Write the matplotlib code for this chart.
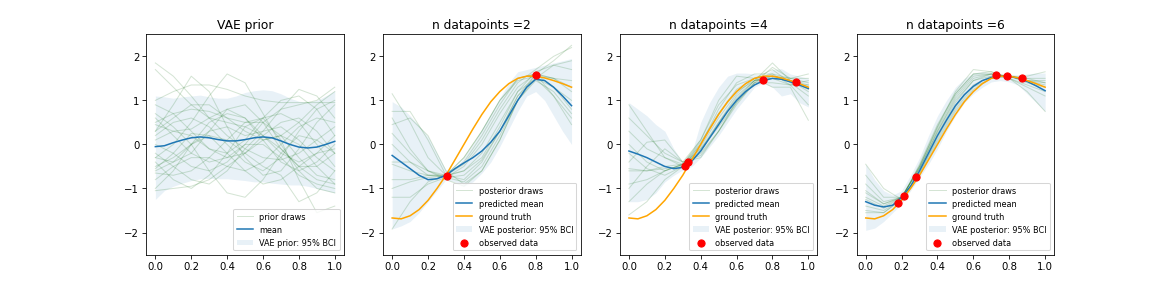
import numpy as np
import matplotlib
matplotlib.use("Agg")
from matplotlib import pyplot as plt

#---------------------------------------------------
#----------Data-------------------------------------
x_fine = np.linspace(0, 1, 21)   # grid for means / truth / bands
x_draw = np.linspace(0, 1, 11)   # grid for the faint draws

ground_truth = [-1.67, -1.69, -1.62, -1.48, -1.27, -1.0, -0.7, -0.35, 0.0, 0.35, 0.68,
                0.97, 1.2, 1.38, 1.5, 1.55, 1.55, 1.51, 1.45, 1.38, 1.3]

# VAE prior
prior_mean = [-0.05, -0.03, 0.04, 0.10, 0.15, 0.17, 0.15, 0.11, 0.08, 0.08, 0.11,
              0.15, 0.17, 0.15, 0.08, 0.0, -0.06, -0.08, -0.06, 0.0, 0.07]
prior_hi = [1.1, 1.08, 1.05, 1.08, 1.1, 1.12, 1.08, 1.05, 1.05, 1.1, 1.18,
            1.22, 1.24, 1.22, 1.15, 1.05, 0.98, 0.96, 1.0, 1.1, 1.22]
prior_lo = [-1.25, -1.05, -0.95, -0.88, -0.82, -0.78, -0.77, -0.78, -0.78, -0.8, -0.82,
            -0.85, -0.85, -0.88, -0.9, -0.92, -0.92, -0.95, -1.0, -1.05, -1.1]
prior_draws = [
    [1.85, 1.55, 1.1, 0.6, 0.2, -0.1, -0.3, -0.35, -0.2, 0.1, 0.4],
    [1.7, 1.3, 0.9, 0.6, 0.5, 0.4, 0.2, -0.1, -0.5, -0.8, -0.9],
    [0.3, 0.9, 1.55, 1.2, 0.4, -0.3, -0.7, -0.6, -0.1, 0.5, 0.9],
    [-0.3, 0.0, 0.5, 1.1, 1.6, 1.4, 0.7, 0.0, -0.6, -1.0, -1.1],
    [1.0, 1.2, 1.35, 1.35, 1.25, 1.1, 1.0, 0.95, 0.95, 0.95, 0.95],
    [-0.6, -0.4, 0.0, 0.3, 0.4, 0.2, 0.3, 0.8, 1.25, 1.1, 0.6],
    [0.0, -0.2, -0.5, -0.6, -0.4, 0.0, 0.5, 0.8, 0.9, 1.0, 1.3],
    [-0.4, -0.8, -1.0, -0.7, -0.2, 0.4, 0.6, 0.1, -0.8, -1.55, -1.4],
    [0.7, 0.4, 0.0, -0.6, -1.1, -1.2, -0.8, -0.2, 0.2, 0.1, -0.2],
    [-1.05, -1.0, -0.95, -0.8, -0.5, -0.2, 0.1, 0.2, 0.0, -0.5, -0.9],
    [0.5, 0.7, 0.8, 0.75, 0.6, 0.5, 0.6, 0.7, 0.5, 0.0, -0.5],
    [-0.5, -0.3, 0.0, 0.2, 0.1, -0.2, -0.5, -0.7, -1.3, -1.1, -0.6],
    [0.2, 0.5, 0.6, 0.4, 0.0, -0.4, -0.6, -0.3, 0.3, 0.8, 1.0],
    [-0.8, -0.5, -0.3, -0.3, -0.5, -0.6, -0.4, 0.0, 0.4, 0.6, 0.5],
    [0.9, 0.7, 0.3, -0.1, -0.3, -0.2, 0.2, 0.5, 0.6, 0.3, -0.2],
    [-0.2, -0.5, -0.8, -0.9, -0.6, -0.1, 0.3, 0.4, 0.1, -0.3, -0.6],
    [0.1, 0.3, 0.2, -0.1, -0.2, 0.1, 0.6, 1.0, 1.1, 0.8, 0.2],
    [-0.65, -0.7, -0.6, -0.3, 0.1, 0.5, 0.5, 0.2, -0.3, -0.7, -0.8],
    [0.6, 0.2, -0.2, -0.4, -0.3, 0.0, 0.0, -0.3, -0.7, -0.9, -1.0],
    [-1.0, -0.6, 0.0, 0.5, 0.7, 0.6, 0.2, -0.2, -0.4, -0.2, 0.2],
    [0.3, 0.6, 0.9, 0.9, 0.6, 0.3, 0.1, 0.2, 0.5, 0.9, 1.2],
    [-0.3, -0.4, -0.2, 0.3, 0.8, 0.9, 0.5, -0.1, -0.5, -0.5, -0.2],
    [0.45, 0.3, 0.35, 0.6, 0.8, 0.6, 0.1, -0.4, -0.6, -0.4, 0.0],
    [-0.55, -0.2, 0.25, 0.2, -0.2, -0.6, -0.9, -0.8, -0.5, -0.2, -0.1],
]

# n datapoints = 2
obs2_x = [0.305, 0.80]
obs2_y = [-0.72, 1.57]
mean2 = [-0.25, -0.4, -0.55, -0.7, -0.8, -0.78, -0.7, -0.55, -0.42, -0.3, -0.15,
         0.05, 0.3, 0.65, 1.0, 1.3, 1.48, 1.45, 1.3, 1.1, 0.88]
hi2 = [0.97, 0.85, 0.65, 0.42, 0.18, -0.2, -0.58, -0.55, -0.3, 0.0, 0.35,
       0.7, 1.05, 1.4, 1.65, 1.7, 1.75, 1.8, 1.85, 1.9, 1.95]
lo2 = [-1.92, -1.85, -1.75, -1.55, -1.3, -1.05, -0.8, -0.85, -0.95, -0.85, -0.65,
       -0.4, -0.05, 0.35, 0.75, 1.1, 1.2, 1.0, 0.65, 0.3, 0.0]
draws2 = [
    [1.15, 0.5, -0.3, -0.7, -0.4, 0.2, 0.9, 1.5, 1.6, 1.9, 2.25],
    [0.75, 0.75, 0.1, -0.7, -0.8, -0.4, 0.3, 1.1, 1.5, 1.3, 1.0],
    [0.45, 0.6, 0.2, -0.6, -0.9, -0.6, 0.1, 1.0, 1.6, 1.1, 0.45],
    [0.25, -0.2, -0.6, -0.75, -0.5, 0.0, 0.7, 1.3, 1.6, 1.5, 1.2],
    [-0.45, -0.6, -0.7, -0.7, -0.6, -0.3, 0.4, 1.2, 1.65, 1.8, 1.7],
    [-0.8, -0.8, -0.7, -0.75, -0.85, -0.5, 0.2, 1.0, 1.45, 1.2, 0.7],
    [0.0, -0.4, -0.7, -0.7, -0.45, 0.1, 0.8, 1.4, 1.7, 2.0, 2.2],
    [-1.92, -1.3, -0.85, -0.7, -0.3, 0.3, 1.0, 1.5, 1.6, 1.5, 1.3],
    [-1.2, -1.2, -0.9, -0.75, -0.7, -0.35, 0.3, 1.1, 1.6, 1.3, 0.8],
    [0.6, -0.1, -0.6, -0.8, -0.95, -0.6, 0.1, 1.0, 1.5, 1.1, 0.6],
    [-0.4, -0.4, -0.6, -0.7, -0.3, 0.3, 1.0, 1.45, 1.55, 1.5, 1.45],
    [-1.0, -0.85, -0.75, -0.72, -0.6, -0.2, 0.5, 1.2, 1.5, 1.8, 1.9],
]

# n datapoints = 4
obs4_x = [0.315, 0.33, 0.745, 0.93]
obs4_y = [-0.49, -0.41, 1.47, 1.41]
mean4 = [-0.15, -0.22, -0.3, -0.4, -0.5, -0.55, -0.52, -0.38, -0.15, 0.15, 0.45,
         0.75, 1.0, 1.2, 1.35, 1.45, 1.5, 1.48, 1.42, 1.35, 1.27]
hi4 = [0.95, 0.8, 0.65, 0.45, 0.3, -0.1, -0.4, -0.2, 0.5, 0.95, 1.3,
       1.55, 1.62, 1.62, 1.6, 1.55, 1.7, 1.72, 1.6, 1.55, 1.5]
lo4 = [-1.3, -1.3, -1.25, -1.1, -0.85, -0.7, -0.58, -0.5, -0.3, -0.05, 0.2,
       0.5, 0.8, 1.05, 1.3, 1.4, 1.3, 1.1, 1.15, 0.95, 0.85]
draws4 = [
    [0.9, 0.3, -0.3, -0.45, 0.0, 0.7, 1.2, 1.45, 1.5, 1.45, 1.3],
    [0.6, 0.2, -0.2, -0.4, 0.1, 0.9, 1.35, 1.5, 1.55, 1.5, 1.5],
    [-0.6, -0.6, -0.5, -0.45, -0.2, 0.3, 0.9, 1.4, 1.55, 1.45, 1.2],
    [-0.55, -0.6, -0.55, -0.5, 0.0, 0.8, 1.4, 1.6, 1.6, 1.35, 0.9],
    [-1.3, -0.9, -0.6, -0.45, -0.1, 0.4, 0.95, 1.4, 1.75, 1.5, 1.4],
    [-0.4, 0.05, 0.1, -0.4, -0.3, 0.3, 1.0, 1.45, 1.5, 1.35, 1.35],
    [0.3, -0.1, -0.3, -0.5, -0.15, 0.5, 1.1, 1.45, 1.85, 1.45, 1.35],
    [-0.9, -0.8, -0.6, -0.45, 0.1, 1.0, 1.55, 1.5, 1.3, 1.3, 0.55],
    [-1.6, -1.3, -0.8, -0.5, -0.1, 0.5, 1.05, 1.45, 1.55, 1.45, 1.25],
    [0.0, -0.4, -0.6, -0.45, 0.05, 0.7, 1.25, 1.5, 1.6, 1.5, 1.6],
    [-0.2, -0.55, -0.7, -0.5, -0.05, 0.6, 1.15, 1.5, 1.7, 1.4, 1.1],
    [-1.0, -0.5, -0.1, -0.4, -0.25, 0.3, 0.95, 1.4, 1.4, 1.35, 1.45],
]

# n datapoints = 6
obs6_x = [0.18, 0.215, 0.28, 0.728, 0.788, 0.872]
obs6_y = [-1.33, -1.16, -0.74, 1.57, 1.56, 1.5]
mean6 = [-1.3, -1.38, -1.42, -1.38, -1.2, -0.95, -0.6, -0.2, 0.2, 0.55, 0.88,
         1.13, 1.32, 1.45, 1.52, 1.55, 1.55, 1.5, 1.43, 1.33, 1.22]
hi6 = [-0.45, -0.8, -1.05, -1.15, -1.05, -0.7, -0.3, 0.2, 0.65, 1.0, 1.3,
       1.5, 1.62, 1.65, 1.62, 1.6, 1.6, 1.55, 1.6, 1.62, 1.62]
lo6 = [-1.95, -1.9, -1.75, -1.55, -1.35, -1.05, -0.75, -0.45, -0.1, 0.3, 0.65,
       0.95, 1.15, 1.3, 1.42, 1.45, 1.42, 1.35, 1.15, 0.95, 0.75]
draws6 = [
    [-0.45, -1.0, -1.25, -0.45, 0.45, 1.15, 1.6, 1.6, 1.55, 1.45, 1.35],
    [-1.1, -1.35, -1.2, -0.55, 0.3, 1.0, 1.45, 1.55, 1.55, 1.45, 1.45],
    [-0.7, -1.2, -1.2, -0.5, 0.35, 1.1, 1.55, 1.6, 1.55, 1.4, 1.3],
    [-1.4, -1.5, -1.25, -0.65, 0.1, 0.8, 1.3, 1.5, 1.55, 1.5, 1.5],
    [-1.25, -1.45, -1.2, -0.55, 0.3, 1.05, 1.5, 1.6, 1.5, 1.35, 1.2],
    [-1.05, -1.35, -1.2, -0.5, 0.4, 1.2, 1.7, 1.65, 1.5, 1.2, 0.75],
    [-1.55, -1.55, -1.25, -0.65, 0.15, 0.85, 1.35, 1.55, 1.55, 1.55, 1.65],
    [-0.9, -1.3, -1.2, -0.5, 0.4, 1.15, 1.6, 1.65, 1.5, 1.3, 1.1],
    [-1.5, -1.55, -1.25, -0.7, 0.05, 0.75, 1.25, 1.5, 1.55, 1.5, 1.4],
    [-1.2, -1.4, -1.2, -0.55, 0.25, 0.95, 1.45, 1.6, 1.55, 1.45, 1.4],
]

#---------------------------------------------------
#----------Create figure----------------------------
fig, axs = plt.subplots(1, 4, figsize=(16, 4), dpi=73.2)
fig.subplots_adjust(bottom=0.128)

# prior panel
ax = axs[0]
for i, d in enumerate(prior_draws):
    ax.plot(x_draw, d, color='darkgreen', alpha=0.17, lw=1,
            label='prior draws' if i == 0 else None)
ax.plot(x_fine, prior_mean, color='C0', label='mean')
ax.fill_between(x_fine, prior_lo, prior_hi, color='C0', alpha=0.1, lw=0,
                label='VAE prior: 95% BCI')
ax.set_ylim(-2.5, 2.5)
ax.set_title('VAE prior')
ax.legend(loc='lower right', fontsize=8)

# posterior panels
panels = [
    (draws2, mean2, lo2, hi2, obs2_x, obs2_y, 2),
    (draws4, mean4, lo4, hi4, obs4_x, obs4_y, 4),
    (draws6, mean6, lo6, hi6, obs6_x, obs6_y, 6),
]
for ax, (draws, mean, lo, hi, ox, oy, n) in zip(axs[1:], panels):
    for i, d in enumerate(draws):
        ax.plot(x_draw, d, color='darkgreen', alpha=0.17, lw=1,
                label='posterior draws' if i == 0 else None)
    ax.plot(x_fine, mean, color='C0', label='predicted mean')
    ax.plot(x_fine, ground_truth, color='orange', label='ground truth')
    ax.fill_between(x_fine, lo, hi, color='C0', alpha=0.1, lw=0,
                    label='VAE posterior: 95% BCI')
    ax.scatter(ox, oy, s=50, color='red', zorder=3, label='observed data')
    ax.set_ylim(-2.5, 2.5)
    ax.set_title('n datapoints =' + str(n))
    ax.legend(loc='lower right', fontsize=8)

fig.savefig('out.png')
